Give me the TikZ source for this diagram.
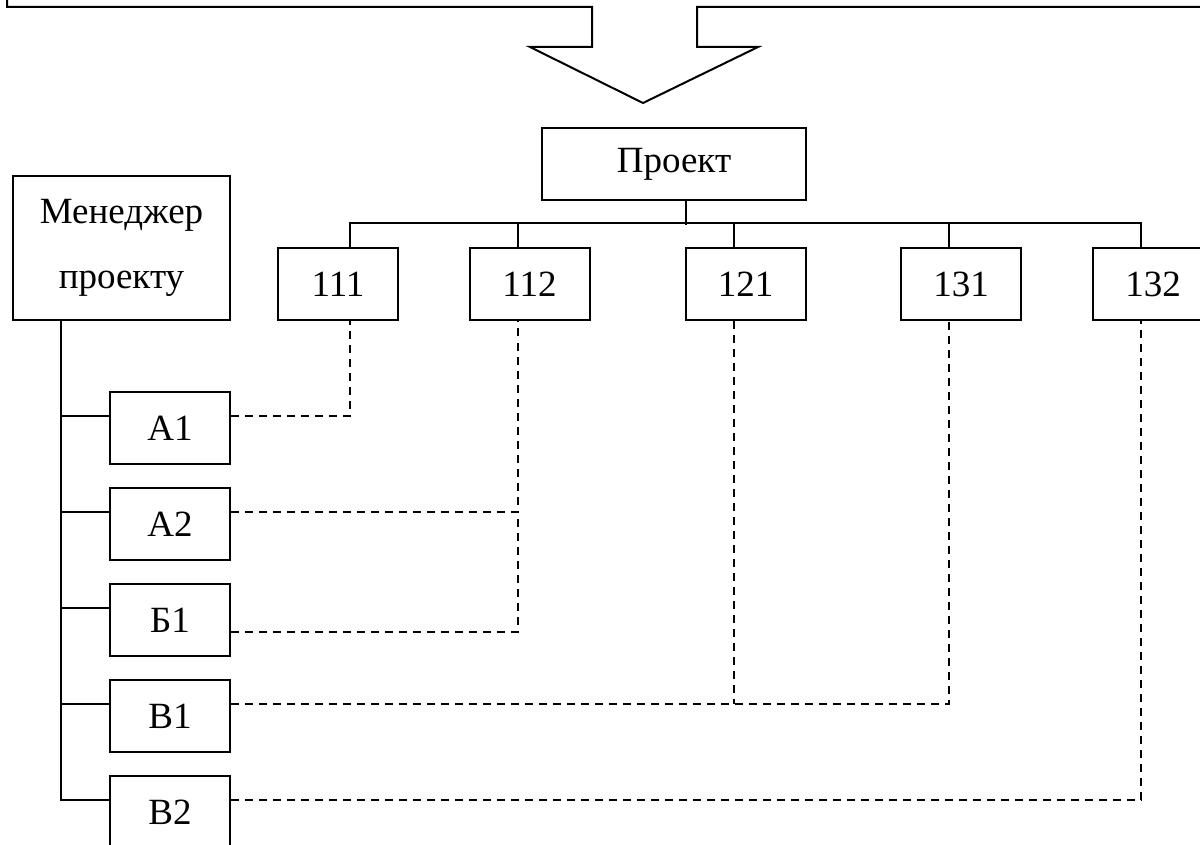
\documentclass[tikz,border=0pt]{standalone}
\usepackage{fontspec}
\setmainfont{Liberation Serif}
\usetikzlibrary{calc}

\tikzset{
  box/.style={draw, line width=1pt, inner sep=0pt, minimum width=60pt, minimum height=36pt,
              font=\fontsize{18.5}{22}\selectfont},
  link/.style={line width=1pt},
  dlink/.style={line width=1pt, dash pattern=on 4pt off 3pt}
}

\begin{document}
\begin{tikzpicture}[x=0.5pt, y=-0.5pt]
			\useasboundingbox (0,0) rectangle (1200,845);
			\clip (0,0) rectangle (1200,845);

			% Draw the big arrow at the top
			\draw[link, line join=miter] (7,0) -- (7,7) -- (592,7) -- (592,47) -- (530,47) -- (643,103)
			      -- (758,47) -- (697,47) -- (697,7) -- (1200,7);

			% Draw the project tree
			\node[box, minimum width=132pt] (proj) at (674,164) {Проект};

			\node[box] (c111) at (338,284) {111};
			\node[box] (c112) at (529.5,284) {112};
			\node[box] (c121) at (745.5,284) {121};
			\node[box] (c131) at (961,284) {131};
			\node[box] (c132) at (1153,284) {132};

			\coordinate (s111) at ($(c111.south)+(12,0)$);
			\coordinate (s112) at ($(c112.south)+(-12,0)$);
			\coordinate (s121) at ($(c121.south)+(-12,0)$);
			\coordinate (s131) at ($(c131.south)+(-12,0)$);
			\coordinate (s132) at ($(c132.south)+(-12,0)$);
			\coordinate (bus) at ($(proj.south)+(12,24)$);

			\draw[link] ($(proj.south)+(12,0)$) -- (bus);
			\draw[link] ($(c111.north)+(12,0)$) |- ($(c132.north)+(-12,-24)$) -- ($(c132.north)+(-12,0)$);
			\draw[link] ($(c112.north)+(-12,0)$) -- ++(0,-24);
			\draw[link] ($(c121.north)+(-12,0)$) -- ++(0,-24);
			\draw[link] ($(c131.north)+(-12,0)$) -- ++(0,-24);

			% Draw the manager and the performers
			\node[box, minimum width=108.5pt, minimum height=72pt, align=center,
			      font=\fontsize{18.5}{32.5}\selectfont] (mgr) at (121.5,248) {Менеджер\\проекту};

			\node[box] (a1) at (170,428) {А1};
			\node[box] (a2) at (170,524) {А2};
			\node[box] (b1) at (170,620) {Б1};
			\node[box] (v1) at (170,716) {В1};
			\node[box] (v2) at (170,812) {В2};

			\coordinate (la1) at ($(a1.west)+(0,-12)$);
			\coordinate (la2) at ($(a2.west)+(0,-12)$);
			\coordinate (lb1) at ($(b1.west)+(0,-12)$);
			\coordinate (lv1) at ($(v1.west)+(0,-12)$);
			\coordinate (lv2) at ($(v2.west)+(0,-12)$);
			\coordinate (trunk) at ($(mgr.south west)+(49,0)$);

			\draw[link] (trunk) -- (trunk |- lv2) -- (lv2);
			\draw[link] (trunk |- la1) -- (la1);
			\draw[link] (trunk |- la2) -- (la2);
			\draw[link] (trunk |- lb1) -- (lb1);
			\draw[link] (trunk |- lv1) -- (lv1);

			% Draw the dashed links to the codes
			\draw[dlink] ($(a1.east)+(0,-12)$) -| (s111);
			\draw[dlink] ($(a2.east)+(0,-12)$) -| (s112);
			\draw[dlink] ($(b1.east)+(0,12)$) -| (s112 |- la2);
			\draw[dlink] ($(v1.east)+(0,-12)$) -| (s131);
			\draw[dlink] (s121) -- (s121 |- lv1);
			\draw[dlink] ($(v2.east)+(0,-12)$) -| (s132);

		\end{tikzpicture}
\end{document}
